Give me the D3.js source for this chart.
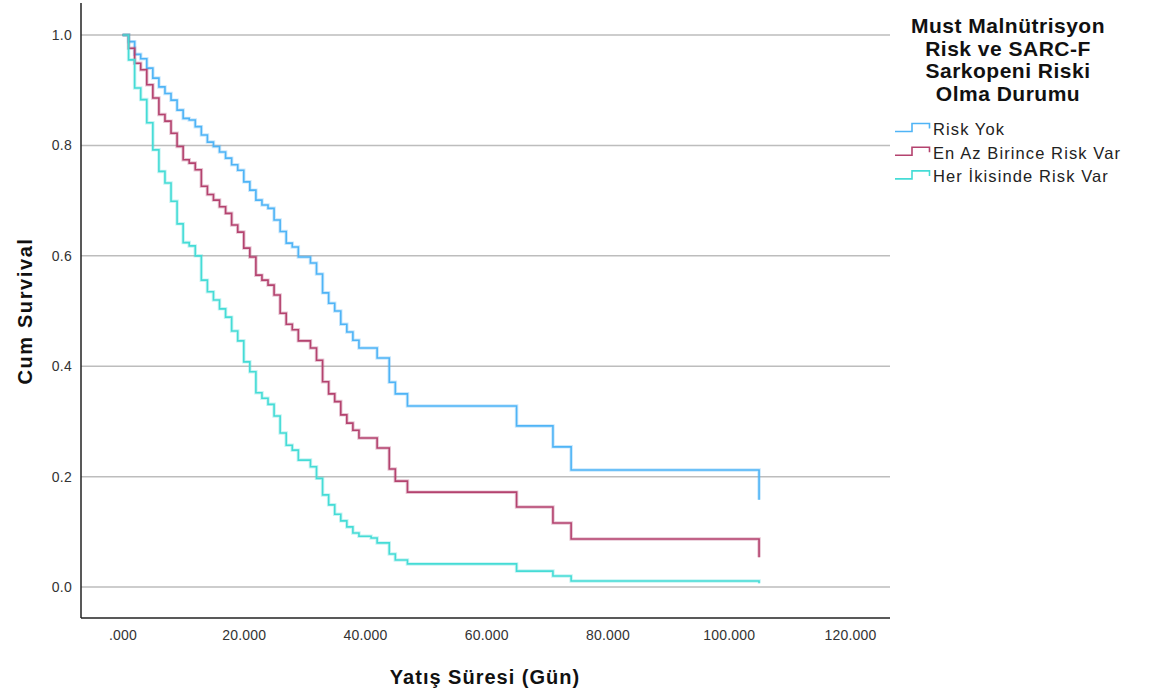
<!DOCTYPE html>
<html>
<head>
<meta charset="utf-8">
<script src="https://cdn.jsdelivr.net/npm/d3@7"></script>
<style>
  body { margin: 0; background: #fff; }
  text { font-family: "Liberation Sans", Arial, sans-serif; }
</style>
</head>
<body>
<script>
// Kaplan-Meier steps: [day, cumulative survival]
var riskYok = [[0,1],[1,0.988],[2,0.965],[3,0.957],[4,0.940],[5,0.922],[6,0.906],[7,0.894],[8,0.882],[9,0.864],[10,0.849],[11,0.846],[12,0.834],[13,0.819],[14,0.806],[15,0.798],[16,0.788],[17,0.777],[18,0.765],[19,0.755],[20,0.734],[21,0.719],[22,0.701],[23,0.692],[24,0.686],[25,0.665],[26,0.644],[27,0.623],[28,0.616],[29,0.598],[31,0.587],[32,0.567],[33,0.533],[34,0.514],[35,0.500],[36,0.476],[37,0.462],[38,0.447],[39,0.433],[42,0.415],[44,0.371],[45,0.350],[47,0.328],[65,0.292],[71,0.254],[74,0.212],[105,0.158]];
var enAzBirince = [[0,1],[1,0.976],[2,0.949],[3,0.937],[4,0.910],[5,0.886],[6,0.856],[7,0.844],[8,0.822],[9,0.798],[10,0.774],[11,0.768],[12,0.756],[13,0.726],[14,0.711],[15,0.701],[16,0.689],[17,0.677],[18,0.656],[19,0.643],[20,0.614],[21,0.598],[22,0.565],[23,0.556],[24,0.547],[25,0.529],[26,0.496],[27,0.476],[28,0.466],[29,0.446],[31,0.433],[32,0.411],[33,0.372],[34,0.350],[35,0.336],[36,0.312],[37,0.297],[38,0.284],[39,0.270],[42,0.252],[44,0.214],[45,0.192],[47,0.172],[65,0.145],[71,0.116],[74,0.087],[105,0.054]];
var herIkisinde = [[0,1],[1,0.955],[2,0.904],[3,0.883],[4,0.841],[5,0.792],[6,0.753],[7,0.732],[8,0.699],[9,0.658],[10,0.624],[11,0.618],[12,0.600],[13,0.556],[14,0.535],[15,0.520],[16,0.504],[17,0.489],[18,0.464],[19,0.446],[20,0.408],[21,0.390],[22,0.352],[23,0.342],[24,0.331],[25,0.310],[26,0.279],[27,0.257],[28,0.248],[29,0.230],[31,0.218],[32,0.197],[33,0.167],[34,0.149],[35,0.132],[36,0.120],[37,0.109],[38,0.098],[39,0.092],[41,0.089],[42,0.080],[44,0.060],[45,0.049],[47,0.042],[65,0.029],[71,0.020],[74,0.011],[105,0.007]];

var groupNames = ["Risk Yok", "En Az Birince Risk Var", "Her \u0130kisinde Risk Var"];
var groupColors = ["#4fb4f6", "#b4436f", "#45dcd6"];
var xTicks = [0, 20, 40, 60, 80, 100, 120];
var yTicks = [0, 0.2, 0.4, 0.6, 0.8, 1.0];
var legendTitle = ["Must Maln\u00fctrisyon", "Risk ve SARC-F", "Sarkopeni Riski", "Olma Durumu"];

var series = [riskYok, enAzBirince, herIkisinde];

function drawChart(){
    let width = 1149, height = 697;
    let svg = d3.select("body").append("svg")
        .attr("width", width)
        .attr("height", height);

    // plot frame
    let pLeft = 81, pRight = 890, pTop = 3, pBottom = 618;
    let x = d3.scaleLinear().domain([-6.85, 126.6]).range([pLeft, pRight]);
    let y = d3.scaleLinear().domain([-0.056, 1.058]).range([pBottom, pTop]);

    // gridlines
    svg.selectAll("line.grid")
        .data(yTicks)
        .enter()
        .append("line")
        .attr("x1", pLeft).attr("x2", pRight)
        .attr("y1", d => y(d)).attr("y2", d => y(d))
        .style("stroke", "#bdbdbd")
        .style("stroke-width", 1.5);

    // axes
    let xAxis = d3.axisBottom(x)
        .tickValues(xTicks)
        .tickSize(0)
        .tickPadding(12)
        .tickFormat(d => d === 0 ? ".000" : d3.format(".3f")(d));
    let gx = svg.append("g").attr("transform", "translate(0," + pBottom + ")").call(xAxis);
    gx.select(".domain").attr("d", "M" + pLeft + ",0H" + pRight).style("stroke", "#222").style("stroke-width", 1.5);
    gx.selectAll("text").style("font-size", "14px").style("fill", "#333").style("letter-spacing", "0.2px");

    let yAxis = d3.axisLeft(y)
        .tickValues(yTicks)
        .tickSize(0)
        .tickPadding(9)
        .tickFormat(d3.format(".1f"));
    let gy = svg.append("g").attr("transform", "translate(" + pLeft + ",0)").call(yAxis);
    gy.select(".domain").attr("d", "M0," + pTop + "V" + pBottom).style("stroke", "#222").style("stroke-width", 1.5);
    gy.selectAll("text").style("font-size", "14px").style("fill", "#333").style("letter-spacing", "0.3px");

    // survival curves
    let line = d3.line()
        .x(d => x(d[0]))
        .y(d => y(d[1]))
        .curve(d3.curveStepAfter);

    series.forEach((s, i) => {
        svg.append("path")
            .attr("d", line(s))
            .style("fill", "none")
            .style("stroke", groupColors[i])
            .style("stroke-opacity", 0.3)
            .style("stroke-width", 3.5);
        svg.append("path")
            .attr("d", line(s))
            .style("fill", "none")
            .style("stroke", groupColors[i])
            .style("stroke-width", 1.6);
    });

    // axis titles
    svg.append("text")
        .attr("x", 485).attr("y", 684)
        .attr("text-anchor", "middle")
        .style("font-size", "20px").style("font-weight", "bold").style("letter-spacing", "1px")
        .style("fill", "#111")
        .text("Yat\u0131\u015f S\u00fcresi (G\u00fcn)");

    svg.append("text")
        .attr("transform", "translate(32,311) rotate(-90)")
        .attr("text-anchor", "middle")
        .style("font-size", "20px").style("font-weight", "bold").style("letter-spacing", "1.6px")
        .style("fill", "#111")
        .text("Cum Survival");

    // legend
    svg.selectAll("text.ltitle")
        .data(legendTitle)
        .enter()
        .append("text")
        .attr("x", 1008)
        .attr("y", (d, i) => 33 + i * 22.5)
        .attr("text-anchor", "middle")
        .style("font-size", "21px").style("font-weight", "bold").style("letter-spacing", "0.5px")
        .style("fill", "#111")
        .text(d => d);

    let items = svg.selectAll("g.item")
        .data(groupNames)
        .enter()
        .append("g")
        .attr("transform", (d, i) => "translate(0," + (i * 23.7) + ")");

    items.append("path")
        .attr("d", "M895,131.5H912V123.5H929.5V128.5")
        .style("fill", "none")
        .style("stroke", (d, i) => groupColors[i])
        .style("stroke-width", 1.6);

    items.append("text")
        .attr("x", 933)
        .attr("y", 135)
        .style("font-size", "16.5px").style("letter-spacing", "1.1px")
        .style("fill", "#222")
        .text(d => d);
}

drawChart();
</script>
</body>
</html>
